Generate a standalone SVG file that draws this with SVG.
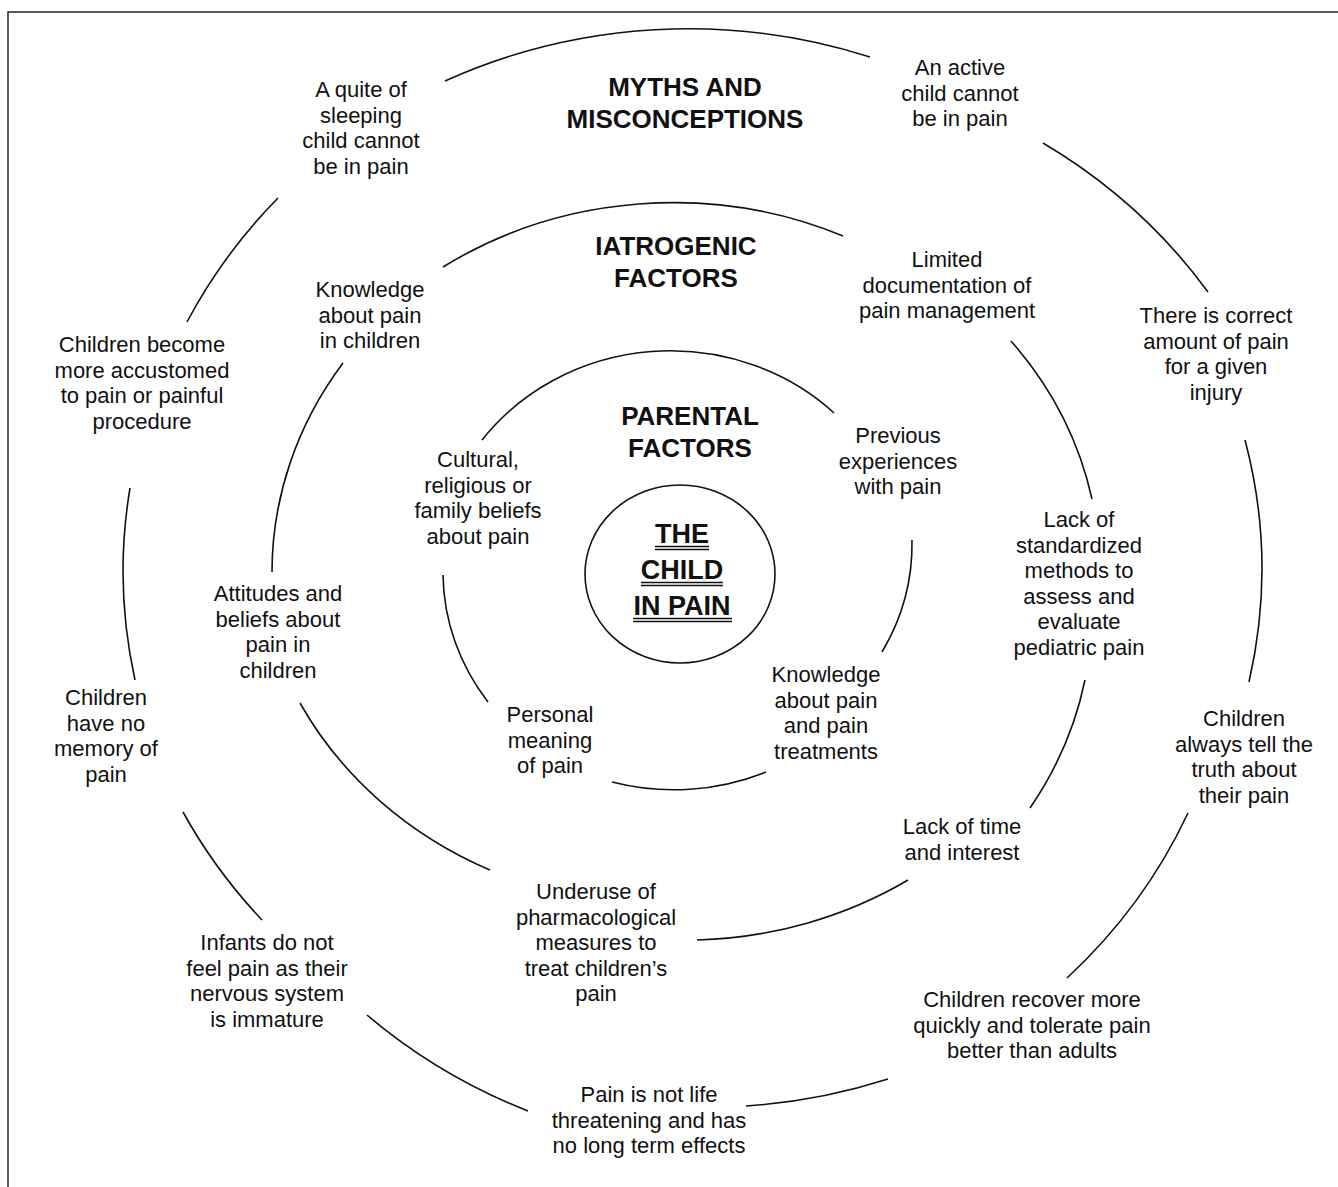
<svg xmlns="http://www.w3.org/2000/svg" width="1338" height="1187" viewBox="0 0 1338 1187">
<style>
.t{font-family:"Liberation Sans",Arial,sans-serif;font-size:22px;fill:#111;text-anchor:middle}
.h{font-family:"Liberation Sans",Arial,sans-serif;font-size:26px;font-weight:bold;fill:#111;text-anchor:middle}
.c{font-family:"Liberation Sans",Arial,sans-serif;font-size:27px;font-weight:bold;fill:#111;text-anchor:middle}
.arc{fill:none;stroke:#111;stroke-width:1.6}
.ul{stroke:#111;stroke-width:1.6}
</style>
<rect x="0" y="0" width="1338" height="1187" fill="#fff"/>
<rect x="8" y="12" width="1345" height="1195" fill="none" stroke="#333" stroke-width="1.6"/>

<g id="connectors">
  <ellipse id="center-circle" class="arc" cx="680" cy="574" rx="95" ry="89"/>
  <!-- ring 1 parental -->
  <path class="arc" d="M 482 440 A 235 221 0 0 1 834 413"/>
  <path class="arc" d="M 912 540 A 235 221 0 0 1 882 652"/>
  <path class="arc" d="M 766 772 A 235 221 0 0 1 612 782"/>
  <path class="arc" d="M 488 702 A 235 221 0 0 1 443 575"/>
  <!-- ring 2 iatrogenic -->
  <path class="arc" d="M 443 267 A 410 372 0 0 1 843 236"/>
  <path class="arc" d="M 1011 341 A 410 372 0 0 1 1092 499"/>
  <path class="arc" d="M 1085 680 A 410 372 0 0 1 1030 808"/>
  <path class="arc" d="M 908 880 A 410 372 0 0 1 697 940"/>
  <path class="arc" d="M 490 870 A 410 372 0 0 1 300 703"/>
  <path class="arc" d="M 272 572 A 410 372 0 0 1 343 363"/>
  <!-- ring 3 myths -->
  <path class="arc" d="M 445 81 A 565 533 0 0 1 870 57"/>
  <path class="arc" d="M 1043 143 A 565 533 0 0 1 1208 292"/>
  <path class="arc" d="M 1245 440 A 565 533 0 0 1 1249 682"/>
  <path class="arc" d="M 1188 813 A 565 533 0 0 1 1067 978"/>
  <path class="arc" d="M 888 1079 A 565 533 0 0 1 746 1106"/>
  <path class="arc" d="M 528 1111 A 565 533 0 0 1 367 1015"/>
  <path class="arc" d="M 262 920 A 565 533 0 0 1 183 812"/>
  <path class="arc" d="M 135 680 A 565 533 0 0 1 130 488"/>
  <path class="arc" d="M 187 322 A 565 533 0 0 1 278 198"/>
</g>

<g id="center">
  <text class="c" x="682" y="543">THE</text>
  <line class="ul" x1="655" y1="546.5" x2="709" y2="546.5"/>
  <line class="ul" x1="655" y1="549.5" x2="709" y2="549.5"/>
  <text class="c" x="682" y="579">CHILD</text>
  <line class="ul" x1="641" y1="582.5" x2="723" y2="582.5"/>
  <line class="ul" x1="641" y1="585.5" x2="723" y2="585.5"/>
  <text class="c" x="682" y="615">IN PAIN</text>
  <line class="ul" x1="633" y1="618.5" x2="732" y2="618.5"/>
  <line class="ul" x1="633" y1="621.5" x2="732" y2="621.5"/>
</g>

<g id="header-myths"><text class="h" x="685" y="96"><tspan x="685">MYTHS AND</tspan><tspan x="685" dy="32">MISCONCEPTIONS</tspan></text></g>
<g id="header-iatrogenic"><text class="h" x="676" y="255"><tspan x="676">IATROGENIC</tspan><tspan x="676" dy="32">FACTORS</tspan></text></g>
<g id="header-parental"><text class="h" x="690" y="425"><tspan x="690">PARENTAL</tspan><tspan x="690" dy="32">FACTORS</tspan></text></g>

<g id="m-quiet"><text class="t" y="97"><tspan x="361">A quite of</tspan><tspan x="361" dy="25.5">sleeping</tspan><tspan x="361" dy="25.5">child cannot</tspan><tspan x="361" dy="25.5">be in pain</tspan></text></g>
<g id="m-active"><text class="t" y="75"><tspan x="960">An active</tspan><tspan x="960" dy="25.5">child cannot</tspan><tspan x="960" dy="25.5">be in pain</tspan></text></g>
<g id="m-correct"><text class="t" y="323"><tspan x="1216">There is correct</tspan><tspan x="1216" dy="25.5">amount of pain</tspan><tspan x="1216" dy="25.5">for a given</tspan><tspan x="1216" dy="25.5">injury</tspan></text></g>
<g id="m-truth"><text class="t" y="726"><tspan x="1244">Children</tspan><tspan x="1244" dy="25.5">always tell the</tspan><tspan x="1244" dy="25.5">truth about</tspan><tspan x="1244" dy="25.5">their pain</tspan></text></g>
<g id="m-recover"><text class="t" y="1007"><tspan x="1032">Children recover more</tspan><tspan x="1032" dy="25.5">quickly and tolerate pain</tspan><tspan x="1032" dy="25.5">better than adults</tspan></text></g>
<g id="m-life"><text class="t" y="1102"><tspan x="649">Pain is not life</tspan><tspan x="649" dy="25.5">threatening and has</tspan><tspan x="649" dy="25.5">no long term effects</tspan></text></g>
<g id="m-infants"><text class="t" y="950"><tspan x="267">Infants do not</tspan><tspan x="267" dy="25.5">feel pain as their</tspan><tspan x="267" dy="25.5">nervous system</tspan><tspan x="267" dy="25.5">is immature</tspan></text></g>
<g id="m-memory"><text class="t" y="705"><tspan x="106">Children</tspan><tspan x="106" dy="25.5">have no</tspan><tspan x="106" dy="25.5">memory of</tspan><tspan x="106" dy="25.5">pain</tspan></text></g>
<g id="m-accustomed"><text class="t" y="352"><tspan x="142">Children become</tspan><tspan x="142" dy="25.5">more accustomed</tspan><tspan x="142" dy="25.5">to pain or painful</tspan><tspan x="142" dy="25.5">procedure</tspan></text></g>

<g id="i-knowledge"><text class="t" y="297"><tspan x="370">Knowledge</tspan><tspan x="370" dy="25.5">about pain</tspan><tspan x="370" dy="25.5">in children</tspan></text></g>
<g id="i-documentation"><text class="t" y="267"><tspan x="947">Limited</tspan><tspan x="947" dy="25.5">documentation of</tspan><tspan x="947" dy="25.5">pain management</tspan></text></g>
<g id="i-standardized"><text class="t" y="527"><tspan x="1079">Lack of</tspan><tspan x="1079" dy="25.5">standardized</tspan><tspan x="1079" dy="25.5">methods to</tspan><tspan x="1079" dy="25.5">assess and</tspan><tspan x="1079" dy="25.5">evaluate</tspan><tspan x="1079" dy="25.5">pediatric pain</tspan></text></g>
<g id="i-time"><text class="t" y="834"><tspan x="962">Lack of time</tspan><tspan x="962" dy="25.5">and interest</tspan></text></g>
<g id="i-underuse"><text class="t" y="899"><tspan x="596">Underuse of</tspan><tspan x="596" dy="25.5">pharmacological</tspan><tspan x="596" dy="25.5">measures to</tspan><tspan x="596" dy="25.5">treat children’s</tspan><tspan x="596" dy="25.5">pain</tspan></text></g>
<g id="i-attitudes"><text class="t" y="601"><tspan x="278">Attitudes and</tspan><tspan x="278" dy="25.5">beliefs about</tspan><tspan x="278" dy="25.5">pain in</tspan><tspan x="278" dy="25.5">children</tspan></text></g>

<g id="p-cultural"><text class="t" y="467"><tspan x="478">Cultural,</tspan><tspan x="478" dy="25.5">religious or</tspan><tspan x="478" dy="25.5">family beliefs</tspan><tspan x="478" dy="25.5">about pain</tspan></text></g>
<g id="p-previous"><text class="t" y="443"><tspan x="898">Previous</tspan><tspan x="898" dy="25.5">experiences</tspan><tspan x="898" dy="25.5">with pain</tspan></text></g>
<g id="p-knowledge"><text class="t" y="682"><tspan x="826">Knowledge</tspan><tspan x="826" dy="25.5">about pain</tspan><tspan x="826" dy="25.5">and pain</tspan><tspan x="826" dy="25.5">treatments</tspan></text></g>
<g id="p-personal"><text class="t" y="722"><tspan x="550">Personal</tspan><tspan x="550" dy="25.5">meaning</tspan><tspan x="550" dy="25.5">of pain</tspan></text></g>
</svg>
